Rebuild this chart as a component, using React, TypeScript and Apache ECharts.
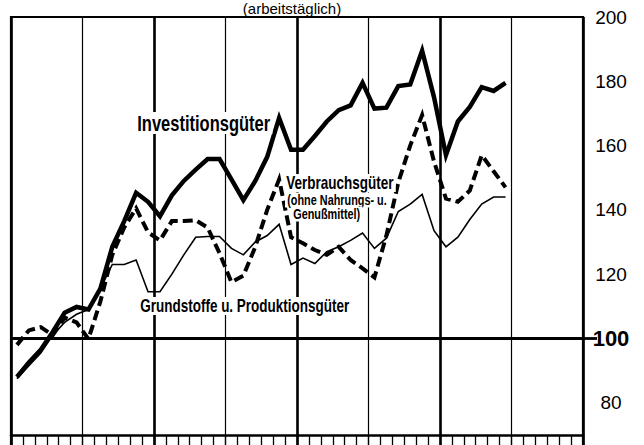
import React, { useEffect, useRef } from "react";
import * as echarts from "echarts";

const monthNames = ["Jan", "Feb", "Mär", "Apr", "Mai", "Jun", "Jul", "Aug", "Sep", "Okt", "Nov", "Dez"];
const yearNames = ["J1", "J2", "J3", "J4"];
const months = yearNames.flatMap((y) => monthNames.map((m) => `${m} ${y}`));

const yTickLabels = [80, 100, 120, 140, 160, 180, 200];

const investitionsgueter = [
  88, 92.5, 96.5, 102, 108, 109.8, 109, 115.5, 128.5, 136.5, 145.3, 142.5,
  138, 144.5, 149, 152.5, 155.8, 155.8, 149.5, 143, 149, 156.5, 168.6, 158.7,
  158.7, 163, 167.5, 171, 172.5, 179.5, 171.5, 171.8, 178.5, 179, 189.5, 175,
  157, 167.5, 172, 178.2, 177, 179.5,
];

const verbrauchsgueter = [
  98, 102.5, 103.5, 101, 106.5, 105, 99.8, 111.5, 126, 134.5, 140.5, 133,
  130.5, 136.5, 136.5, 136.8, 134.5, 126.5, 117.5, 119.5, 128.5, 140, 149.5, 131.5,
  129.6, 127.5, 126, 128.5, 124.4, 121.8, 119, 132, 148.5, 160, 169.5, 155,
  143.5, 142.5, 146, 157, 152, 147,
];

const grundstoffe = [
  87.5, 91.5, 95.5, 101, 105, 107.5, 109, 115.5, 123, 123, 124.4, 114.5,
  114.5, 120, 126, 131.5, 131.7, 131.7, 128, 126, 130, 132, 135.5, 123,
  125, 123.3, 127, 128.5, 130.5, 132.8, 128, 131.2, 139.5, 141.8, 144.8, 133.5,
  128.5, 131.5, 137, 141.8, 144, 144,
];

const FONT = '"Liberation Sans", Arial, sans-serif';

function label(text: string, x: number, y: number, size: number, sx: number) {
  return {
    type: "text",
    x,
    y,
    scaleX: sx,
    z: 100,
    silent: true,
    style: {
      text,
      x: 0,
      y: 0,
      fill: "#000",
      font: `bold ${size}px ${FONT}`,
      textAlign: "left",
      textVerticalAlign: "middle",
      backgroundColor: "#fff",
      padding: [0, 3],
    },
  };
}

export default function App() {
  const ref = useRef<HTMLDivElement>(null);
  useEffect(() => {
    const chart = echarts.init(ref.current!, null, { renderer: "svg" });
    chart.setOption({
      animation: false,
      backgroundColor: "#fff",
      grid: {
        left: 11,
        right: 61,
        top: 17,
        bottom: 10,
        show: true,
        borderColor: "#000",
        borderWidth: 2.2,
        backgroundColor: "transparent",
      },
      xAxis: [
        {
          type: "category",
          data: months,
          boundaryGap: true,
          position: "bottom",
          offset: -32,
          axisLine: { show: true, lineStyle: { color: "#000", width: 2.5 } },
          axisTick: { show: true, interval: 0, length: 12, lineStyle: { color: "#000", width: 1.3 } },
          axisLabel: { show: false },
          splitLine: { show: true, interval: 5, lineStyle: { color: "#000", width: 1.2 } },
        },
        {
          type: "category",
          data: months,
          boundaryGap: true,
          position: "bottom",
          offset: -32,
          axisLine: { show: false },
          axisTick: { show: false },
          axisLabel: { show: false },
          splitLine: { show: true, interval: 11, lineStyle: { color: "#000", width: 2.6 } },
        },
      ],
      yAxis: {
        type: "value",
        min: 60,
        max: 200,
        interval: 20,
        position: "right",
        axisLine: { show: false },
        axisTick: {
          show: true,
          customValues: [100],
          length: 14,
          lineStyle: { color: "#000", width: 2.8 },
        },
        axisLabel: {
          customValues: yTickLabels,
          margin: 28,
          align: "center",
          formatter: (v: number) => (v === 100 ? `{b|${v}}` : `{n|${v}}`),
          rich: {
            n: { fontFamily: FONT, fontSize: 19, color: "#000" },
            b: { fontFamily: FONT, fontSize: 22, fontWeight: "bold", color: "#000" },
          },
        },
        splitLine: { show: true, lineStyle: { color: "#000", width: 1.2 } },
      },
      graphic: [
        {
          type: "text",
          x: 292,
          y: 8.5,
          z: 100,
          style: {
            text: "(arbeitstäglich)",
            fill: "#000",
            font: `15px ${FONT}`,
            textAlign: "center",
            textVerticalAlign: "middle",
          },
        },
        label("Investitionsgüter", 135, 123, 22, 0.75),
        label("Verbrauchsgüter", 284, 183, 18, 0.75),
        label("(ohne Nahrungs- u.", 285, 200, 14.5, 0.75),
        label("Genußmittel)", 291, 214, 14.5, 0.75),
        label("Grundstoffe u. Produktionsgüter", 138, 306, 18, 0.75),
      ],
      series: [
        {
          name: "Grundstoffe u. Produktionsgüter",
          type: "line",
          data: grundstoffe,
          symbol: "none",
          z: 3,
          lineStyle: { color: "#000", width: 1.6, join: "miter" },
        },
        {
          name: "Verbrauchsgüter",
          type: "line",
          data: verbrauchsgueter,
          symbol: "none",
          z: 4,
          lineStyle: { color: "#000", width: 4, type: [10, 5], cap: "butt", join: "miter" },
        },
        {
          name: "Investitionsgüter",
          type: "line",
          data: investitionsgueter,
          symbol: "none",
          z: 5,
          lineStyle: { color: "#000", width: 4.5, join: "miter" },
          markLine: {
            silent: true,
            symbol: "none",
            label: { show: false },
            lineStyle: { color: "#000", width: 2.8, type: "solid" },
            data: [{ yAxis: 100 }],
          },
        },
      ],
    });
    return () => chart.dispose();
  }, []);
  return (
    <div
      style={{
        position: "absolute",
        left: 0,
        top: 0,
        width: 644,
        height: 445,
        overflow: "hidden",
        background: "#fff",
      }}
    >
      <div ref={ref} style={{ width: 644, height: 477 }} />
    </div>
  );
}
